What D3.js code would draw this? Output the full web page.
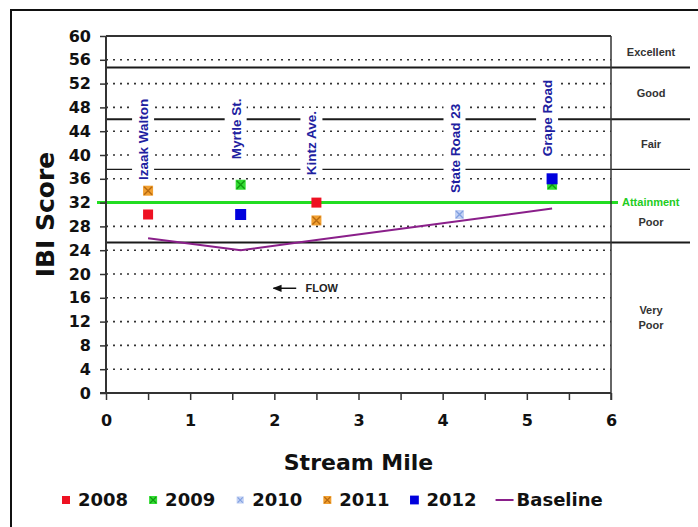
<!DOCTYPE html>
<html><head><meta charset="utf-8">
<script src="https://cdn.jsdelivr.net/npm/d3@7/dist/d3.min.js"></script>
<style>body{margin:0;background:#fff}svg{display:block}</style>
</head><body>
<svg id="c" width="698" height="527"></svg>
<script>
// ---- data ----
const stationMiles = [0.5, 1.6, 2.5, 4.2, 5.3];
const stationNames = ["Izaak Walton", "Myrtle St.", "Kintz Ave.", "State Road 23", "Grape Road"];
const stationLabelBase = [35.8, 39.3, 36.6, 33.6, 39.8]; // score where each rotated label starts
const years = ["2008", "2009", "2010", "2011", "2012"];
const s2008 = [{x:0.5,y:30},{x:2.5,y:32}];
const s2009 = [{x:1.6,y:35},{x:5.3,y:35}];
const s2010 = [{x:4.2,y:30}];
const s2011 = [{x:0.5,y:34},{x:2.5,y:29}];
const s2012 = [{x:1.6,y:30},{x:5.3,y:36}];
const baselineMiles = [0.5, 1.6, 2.5, 4.2, 5.3];
const baselineScores = [26, 24, 25.7, 28.9, 31];
const attainment = 32;
const bandLimits = [25.3, 37.6, 46, 54.7];
const bandNames = [["Very","Poor"], ["Poor"], ["Fair"], ["Good"], ["Excellent"]];
const yTicks = d3.range(0, 61, 4);
const xTicks = d3.range(0, 6.01, 0.5);
const xLabels = [0,1,2,3,4,5,6];

// ---- layout ----
const svg = d3.select("#c");
const L = 106, R = 611, T = 36, B = 393;
const x = d3.scaleLinear().domain([0,6]).range([L,R]);
const y = d3.scaleLinear().domain([0,60]).range([B,T]);
const boldF = "'DejaVu Sans', Verdana, sans-serif";
const arial = "'Liberation Sans', Arial, sans-serif";

// outer frame
svg.append("rect").attr("x",11).attr("y",10).attr("width",720).attr("height",540)
  .attr("fill","none").attr("stroke","#111").attr("stroke-width",2);

// dotted gridlines
svg.append("g").selectAll("line").data(yTicks.filter(d=>d>0 && d<60)).join("line")
  .attr("x1",L).attr("x2",R).attr("y1",d=>y(d)).attr("y2",d=>y(d))
  .attr("stroke","#333").attr("stroke-width",1.6).attr("stroke-dasharray","2 5");

// band lines
svg.append("g").selectAll("line").data(bandLimits).join("line")
  .attr("x1",L).attr("x2",690).attr("y1",d=>y(d)).attr("y2",d=>y(d))
  .attr("stroke","#1a1a1a").attr("stroke-width",(d,i)=> i===1?1.3:2);

// band labels
const bandEdges = [0, ...bandLimits, 60];
const bg = svg.append("g").attr("font-family",arial).attr("font-size",11).attr("font-weight","bold")
  .attr("fill","#333").attr("text-anchor","middle");
bandNames.forEach((nm,i)=>{
  let lo = bandEdges[i], hi = bandEdges[i+1];
  if (i===1) hi = attainment;
  const cy = y((lo+hi)/2);
  const t = bg.append("text").attr("x",651).attr("y",cy - (nm.length-1)*7.5).attr("dy","0.35em");
  nm.forEach((w,j)=> t.append("tspan").attr("x",651).attr("dy", j===0?"0.35em":"15").text(w));
});

// attainment line
svg.append("line").attr("x1",97).attr("x2",618).attr("y1",y(attainment)).attr("y2",y(attainment))
  .attr("stroke","#22dd22").attr("stroke-width",3);
svg.append("text").attr("x",622).attr("y",y(attainment)).attr("dy","0.35em")
  .attr("font-family",arial).attr("font-size",11).attr("font-weight","bold")
  .attr("fill","#22cc22").text("Attainment");

// station labels with white background
const sg = svg.append("g");
stationNames.forEach((nm,i)=>{
  const g = sg.append("g").attr("transform",`translate(${x(stationMiles[i])},${y(stationLabelBase[i])}) rotate(-90)`);
  const r = g.append("rect").attr("fill","#fff");
  const t = g.append("text").attr("font-family",arial).attr("font-size",13.5).attr("font-weight","bold")
    .attr("fill","#2020a0").text(nm);
  const bb = t.node().getBBox();
  r.attr("x",bb.x-3).attr("y",bb.y-4).attr("width",bb.width+6).attr("height",bb.height+7);
});

// plot border / axes
const ax = svg.append("g").attr("stroke","#333").attr("fill","none");
ax.append("line").attr("x1",L).attr("x2",R).attr("y1",T).attr("y2",T).attr("stroke-width",2);
ax.append("line").attr("x1",R).attr("x2",R).attr("y1",T).attr("y2",B+7).attr("stroke-width",1.5);

const yAxis = svg.append("g").attr("transform",`translate(${L},0)`)
  .call(d3.axisLeft(y).tickValues(yTicks).tickSize(6).tickPadding(9).tickFormat(d3.format("d")));
yAxis.select(".domain").attr("stroke","#333").attr("stroke-width",2).attr("d",`M0,${T}V${B}`);
yAxis.selectAll(".tick line").attr("stroke","#333").attr("stroke-width",1.5);
yAxis.selectAll("text").attr("font-family",boldF).attr("font-size",16).attr("font-weight","bold").attr("fill","#111");

const xAxis = svg.append("g").attr("transform",`translate(0,${B})`)
  .call(d3.axisBottom(x).tickValues(xTicks).tickSize(7).tickPadding(15)
    .tickFormat(d=> xLabels.includes(d) ? d3.format("d")(d) : ""));
xAxis.select(".domain").attr("stroke","#333").attr("stroke-width",2).attr("d",`M${L-6},0H${R}`);
xAxis.selectAll(".tick line").attr("stroke","#333").attr("stroke-width",1.5);
xAxis.selectAll("text").attr("font-family",boldF).attr("font-size",16).attr("font-weight","bold").attr("fill","#111");

// titles
svg.append("text").attr("transform",`translate(54,${(T+B)/2+0}) rotate(-90)`).attr("text-anchor","middle")
  .attr("font-family",boldF).attr("font-size",25).attr("font-weight","bold").attr("fill","#111").text("IBI Score");
svg.append("text").attr("x",(L+R)/2).attr("y",470).attr("text-anchor","middle")
  .attr("font-family",boldF).attr("font-size",22).attr("font-weight","bold").attr("fill","#111").text("Stream Mile");

// FLOW annotation
svg.append("defs").append("marker").attr("id","ah").attr("viewBox","0 0 10 10").attr("refX",9).attr("refY",5)
  .attr("markerWidth",6).attr("markerHeight",6).attr("orient","auto")
  .append("path").attr("d","M0,1 L10,5 L0,9 Z").attr("fill","#111");
svg.append("line").attr("x1",x(2.26)).attr("x2",x(1.99)).attr("y1",y(17.6)).attr("y2",y(17.6))
  .attr("stroke","#111").attr("stroke-width",1.5).attr("marker-end","url(#ah)");
svg.append("text").attr("x",x(2.37)).attr("y",y(17.6)).attr("dy","0.35em")
  .attr("font-family",arial).attr("font-size",11).attr("font-weight","bold").attr("fill","#222").text("FLOW");

// baseline line
svg.append("path").datum(baselineMiles.map((m,i)=>[m,baselineScores[i]]))
  .attr("d", d3.line().x(d=>x(d[0])).y(d=>y(d[1])))
  .attr("fill","none").attr("stroke","#8a1f8a").attr("stroke-width",2);

// marker drawing
const styles = {
  "2008": {fill:"#ee1122", x:null, s:10},
  "2009": {fill:"#33dd33", x:"#119911", s:10},
  "2010": {fill:"#c4d2f4", x:"#7f9fe0", s:9},
  "2011": {fill:"#f2a030", x:"#b86a10", s:10},
  "2012": {fill:"#0000dd", x:null, s:11}
};
function marker(g, cx, cy, st, scale){
  const s = st.s*scale;
  g.append("rect").attr("x",cx-s/2).attr("y",cy-s/2).attr("width",s).attr("height",s).attr("fill",st.fill);
  if (st.x){
    const h = s/2-1;
    g.append("path").attr("d",`M${cx-h},${cy-h}L${cx+h},${cy+h}M${cx-h},${cy+h}L${cx+h},${cy-h}`)
      .attr("stroke",st.x).attr("stroke-width",1.4*scale);
  }
}
const series = [s2008, s2009, s2010, s2011, s2012];
const mg = svg.append("g");
[0,1,2,3,4].forEach(i=>{
  series[i].forEach(p=> marker(mg, x(p.x), y(p.y), styles[years[i]], 1));
});
// legend
const lg = svg.append("g");
let lx = 62; const ly = 500;
years.forEach((yr,i)=>{
  marker(lg, lx+4, ly, styles[yr], 0.8);
  const t = lg.append("text").attr("x",lx+16).attr("y",ly).attr("dy","0.36em")
    .attr("font-family",boldF).attr("font-size",18).attr("font-weight","bold").attr("fill","#111").text(yr);
  lx = lx + 16 + t.node().getComputedTextLength() + 21;
});
lg.append("line").attr("x1",lx-2).attr("x2",lx+16).attr("y1",ly).attr("y2",ly).attr("stroke","#8a1f8a").attr("stroke-width",2);
lg.append("text").attr("x",lx+19).attr("y",ly).attr("dy","0.36em")
  .attr("font-family",boldF).attr("font-size",18).attr("font-weight","bold").attr("fill","#111").text("Baseline");
</script>
</body></html>
